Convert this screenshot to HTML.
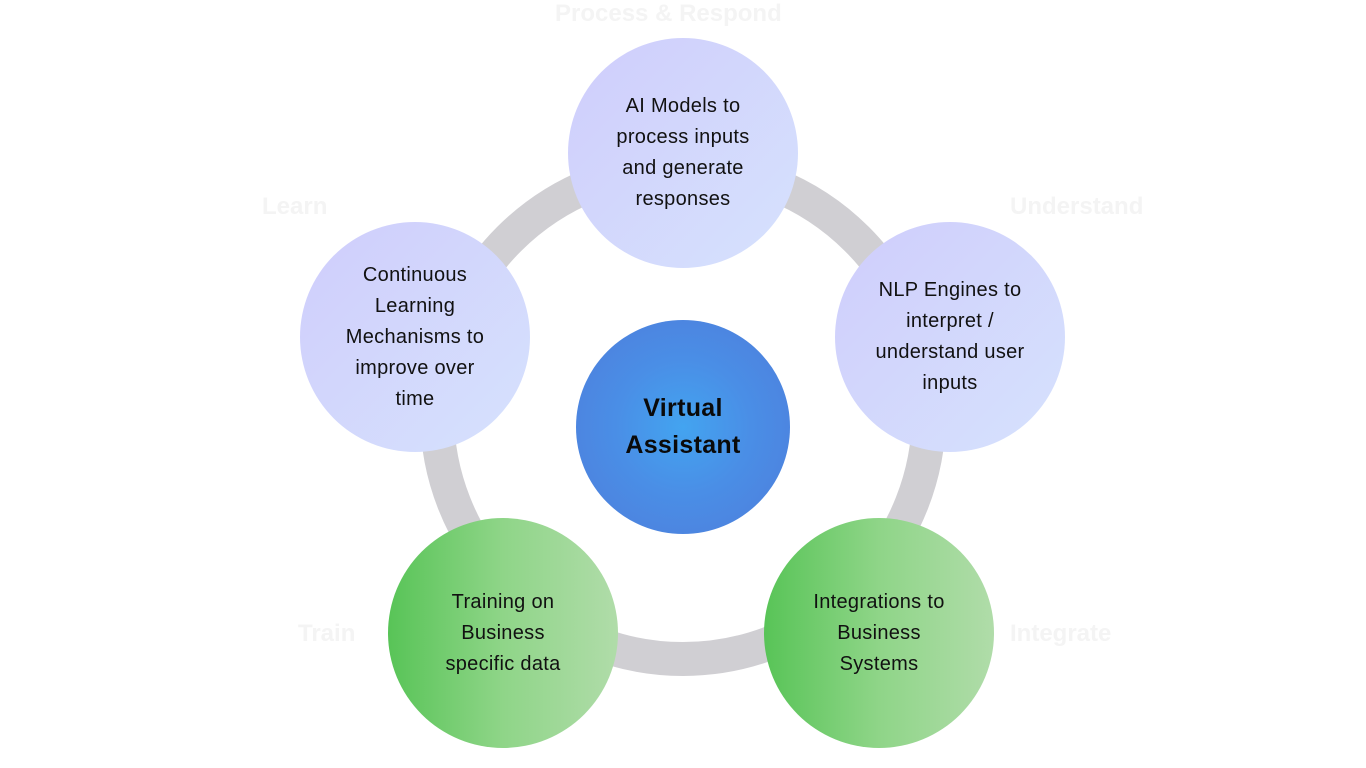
<!DOCTYPE html>
<html><head><style>
html,body{margin:0;padding:0;background:#fff;}
body{width:1366px;height:768px;overflow:hidden;position:relative;font-family:"Liberation Sans",sans-serif;}
.c{position:absolute;border-radius:50%;display:flex;align-items:center;justify-content:center;text-align:center;color:#111;font-size:20px;line-height:31px;letter-spacing:0.3px;}
.p{width:230px;height:230px;background:linear-gradient(135deg,#cfcdfc 0%,#d6e2fd 100%);}
.g{width:230px;height:230px;background:linear-gradient(90deg,#58c457 0%,#8fd588 50%,#b0dca9 100%);}
.lbl{position:absolute;color:#f4f4f4;font-size:24px;font-weight:bold;}
</style></head><body>
<svg width="1366" height="768" style="position:absolute;left:0;top:0">
<circle cx="683" cy="413" r="246" fill="none" stroke="#d0cfd3" stroke-width="34"/>
</svg>
<div class="lbl" style="left:555px;top:0px;">Process &amp; Respond</div>
<div class="lbl" style="left:1010px;top:193px;">Understand</div>
<div class="lbl" style="left:262px;top:193px;">Learn</div>
<div class="lbl" style="left:298px;top:620px;">Train</div>
<div class="lbl" style="left:1010px;top:620px;">Integrate</div>
<div class="c p" style="left:568px;top:38px;"><div>AI Models to<br>process inputs<br>and generate<br>responses</div></div>
<div class="c p" style="left:300px;top:222px;"><div>Continuous<br>Learning<br>Mechanisms to<br>improve over<br>time</div></div>
<div class="c p" style="left:835px;top:222px;"><div>NLP Engines to<br>interpret /<br>understand user<br>inputs</div></div>
<div class="c g" style="left:388px;top:518px;"><div>Training on<br>Business<br>specific data</div></div>
<div class="c g" style="left:764px;top:518px;"><div>Integrations to<br>Business<br>Systems</div></div>
<div class="c" style="left:576px;top:320px;width:214px;height:214px;background:radial-gradient(circle,#43a4f0 0%,#4a8ee6 45%,#4f7cda 100%);font-weight:bold;font-size:25px;line-height:37px;color:#0a0a0a;"><div>Virtual<br>Assistant</div></div>
</body></html>
